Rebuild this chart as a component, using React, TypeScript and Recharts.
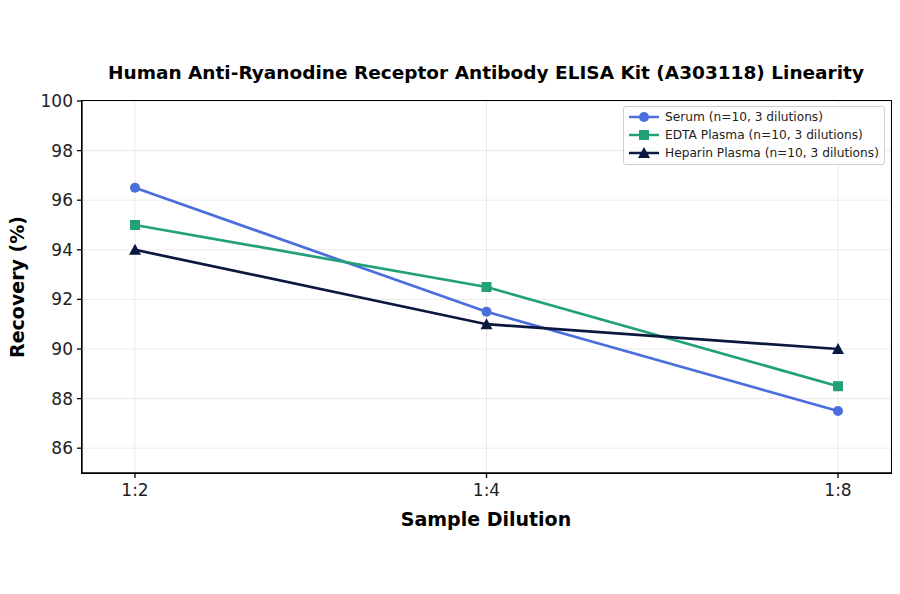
import { LineChart, Line, XAxis, YAxis, CartesianGrid } from 'recharts'

// dilution steps, left to right
const dilutions = ['1:2', '1:4', '1:8']
const serum = [96.5, 91.5, 87.5]
const edtaPlasma = [95, 92.5, 88.5]
const heparinPlasma = [94, 91, 90]
const yTicks = [86, 88, 90, 92, 94, 96, 98, 100]

const seriesInfo = [
  { key: 'serum', name: 'Serum (n=10, 3 dilutions)', color: '#4a6fdc', shape: 'circle' },
  { key: 'edta', name: 'EDTA Plasma (n=10, 3 dilutions)', color: '#22a07a', shape: 'square' },
  { key: 'heparin', name: 'Heparin Plasma (n=10, 3 dilutions)', color: '#0b1840', shape: 'triangle' },
]

const chartData = dilutions.map((d, i) => ({
  name: d,
  serum: serum[i],
  edta: edtaPlasma[i],
  heparin: heparinPlasma[i],
}))

const font = '"DejaVu Sans", sans-serif'

function Marker({ cx, cy, color, shape }: any) {
  if (cx == null || cy == null) return null
  if (shape === 'square') {
    return <rect x={cx - 5} y={cy - 5} width={10} height={10} fill={color} />
  }
  if (shape === 'triangle') {
    return <polygon points={`${cx},${cy - 6} ${cx - 6},${cy + 5} ${cx + 6},${cy + 5}`} fill={color} />
  }
  return <circle cx={cx} cy={cy} r={5} fill={color} />
}

function LegendBox() {
  return (
    <div style={{
      position: 'absolute', left: 623, top: 106,
      border: '1px solid #d0d0d0', borderRadius: 3, background: 'rgba(255,255,255,0.85)',
      padding: '1px 5px 2px 5px', fontFamily: font, fontSize: 12.2, color: '#222', lineHeight: '18px',
    }}>
      {seriesInfo.map(s => (
        <div key={s.key} style={{ display: 'flex', alignItems: 'center' }}>
          <svg width={30} height={14} style={{ marginRight: 6 }}>
            <line x1={0} y1={7} x2={30} y2={7} stroke={s.color} strokeWidth={2.5} />
            <Marker cx={15} cy={7} color={s.color} shape={s.shape} />
          </svg>
          <span>{s.name}</span>
        </div>
      ))}
    </div>
  )
}

export default function App() {
  return (
    <div style={{ position: 'absolute', left: 0, top: 0, width: 900, height: 594, background: '#fff' }}>
      <LineChart width={900} height={594} data={chartData} margin={{ top: 101, right: 9, bottom: 61, left: 0 }}>
        <CartesianGrid stroke="#ebebeb" strokeWidth={1} />
        <text x={486} y={79} textAnchor="middle" fontFamily={font} fontWeight="bold" fontSize={18.5} fill="#000">
          Human Anti-Ryanodine Receptor Antibody ELISA Kit (A303118) Linearity
        </text>
        <text x={486} y={526} textAnchor="middle" fontFamily={font} fontWeight="bold" fontSize={19} fill="#000">
          Sample Dilution
        </text>
        <text x={24} y={287} textAnchor="middle" fontFamily={font} fontWeight="bold" fontSize={19} fill="#000"
          transform="rotate(-90 24 287)">
          Recovery (%)
        </text>
        <XAxis
          dataKey="name"
          padding={{ left: 53, right: 53 }}
          height={60}
          stroke="#000"
          strokeWidth={1.3}
          tickSize={5}
          tick={{ fill: '#222', fontSize: 17, fontFamily: font, dy: 4 }}
        />
        <YAxis
          domain={[85, 100]}
          ticks={yTicks}
          width={82}
          stroke="#000"
          strokeWidth={1.3}
          tickSize={5}
          interval={0}
          tick={{ fill: '#222', fontSize: 17, fontFamily: font, dx: -2 }}
        />
        {seriesInfo.map(s => (
          <Line
            key={s.key}
            dataKey={s.key}
            name={s.name}
            stroke={s.color}
            strokeWidth={2.7}
            type="linear"
            isAnimationActive={false}
            dot={(p: any) => <Marker key={`${s.key}-${p.index}`} cx={p.cx} cy={p.cy} color={s.color} shape={s.shape} />}
            activeDot={false}
          />
        ))}
      </LineChart>
      {/* plot frame, matching the closed box of the original */}
      <div style={{
        position: 'absolute', left: 81.4, top: 100.4, width: 810.2, height: 373.2, boxSizing: 'border-box',
        border: '1.3px solid #000', pointerEvents: 'none',
      }} />
      <LegendBox />
    </div>
  )
}
